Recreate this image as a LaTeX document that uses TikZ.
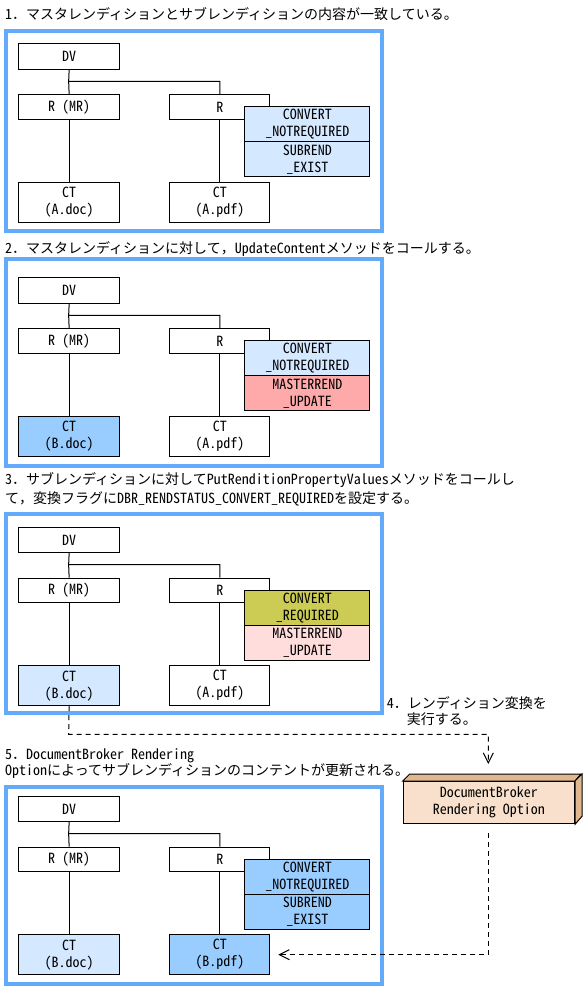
\documentclass[tikz,border=0pt]{standalone}
\usepackage{fontspec}
\setmainfont{Noto Sans CJK JP}[RawFeature=+hwid]
\newfontfamily\fwfont{Noto Sans CJK JP}
\usepackage{tikz}
\usetikzlibrary{arrows.meta}

\definecolor{framecol}{RGB}{100,170,250}
\definecolor{lightblue}{RGB}{212,232,255}
\definecolor{midblue}{RGB}{153,204,255}
\definecolor{salmon}{RGB}{255,170,170}
\definecolor{palepink}{RGB}{255,221,221}
\definecolor{olive}{RGB}{204,204,85}
\definecolor{dbrface}{RGB}{248,224,204}
\definecolor{dbrside}{RGB}{224,184,144}

\newcommand\fwdot{{\fwfont ．}}
\newcommand\fwcomma{{\fwfont ，}}

\begin{document}
\begin{tikzpicture}[x=1pt,y=-1pt,
    box/.style={draw,line width=1pt,inner sep=0pt,anchor=north west,align=center,
      minimum width=101.3pt,font=\fontsize{14}{17}\selectfont},
    dvbox/.style={minimum height=25.5pt},
    rbox/.style={minimum height=24.5pt},
    ctbox/.style={minimum height=40pt},
    stbox/.style={minimum width=125pt,minimum height=35pt},
    tree/.style={line width=1pt},
    frame/.style={draw=framecol,line width=4pt},
    flow/.style={line width=1pt,dash pattern=on 5pt off 4pt},
    title/.style={anchor=west,inner sep=0pt,font=\fontsize{14}{17}\selectfont},]

    \useasboundingbox (0,0) rectangle (584,989);

    \node[title] (t1) at (5,14) {1\fwdot マスタレンディションとサブレンディションの内容が一致している。};

    \begin{scope}[yshift=-43.3pt]

      \draw[frame] (6,-12.3) rectangle (382,187.7);

      \node[box,dvbox] (dv1) at (18,0) {DV};
      \node[box,rbox] (rmr1) at (18,51) {R (MR)};
      \node[box,rbox,minimum width=100pt] (r1) at (169.3,51) {R};
      \node[box,ctbox] (ctl1) at (18,138.5) {CT\\(A.doc)};
      \node[box,ctbox,minimum width=100pt] (ctr1) at (169.3,138.5) {CT\\(A.pdf)};

      \coordinate (j1) at (68.65,38);
      \draw[tree] (dv1.south) -- (j1) -| (r1.north);
      \draw[tree] (j1) -- (rmr1.north);
      \draw[tree] (rmr1.south) -- (ctl1.north);
      \draw[tree] (r1.south) -- (ctr1.north);

      \node[box,stbox,fill=lightblue] (sa1) at (244.3,63) {CONVERT\\\_NOTREQUIRED};
      \node[box,stbox,fill=lightblue] (sb1) at (244.3,98) {SUBREND\\\_EXIST};

    \end{scope}

    \node[title] (t2) at (5,249) {2\fwdot マスタレンディションに対して\fwcomma UpdateContentメソッドをコールする。};

    \begin{scope}[yshift=-277.3pt]

      \draw[frame] (6,-18.3) rectangle (382,188.7);

      \node[box,dvbox] (dv2) at (18,0) {DV};
      \node[box,rbox] (rmr2) at (18,51) {R (MR)};
      \node[box,rbox,minimum width=100pt] (r2) at (169.3,51) {R};
      \node[box,ctbox,fill=midblue] (ctl2) at (18,138.5) {CT\\(B.doc)};
      \node[box,ctbox,minimum width=100pt] (ctr2) at (169.3,138.5) {CT\\(A.pdf)};

      \coordinate (j2) at (68.65,38);
      \draw[tree] (dv2.south) -- (j2) -| (r2.north);
      \draw[tree] (j2) -- (rmr2.north);
      \draw[tree] (rmr2.south) -- (ctl2.north);
      \draw[tree] (r2.south) -- (ctr2.north);

      \node[box,stbox,fill=lightblue] (sa2) at (244.3,63) {CONVERT\\\_NOTREQUIRED};
      \node[box,stbox,fill=salmon] (sb2) at (244.3,98) {MASTERREND\\\_UPDATE};

    \end{scope}

    \node[title] (t3a) at (5,480) {3\fwdot サブレンディションに対してPutRenditionPropertyValuesメソッドをコールし};
    \node[title] (t3b) at (5,499) {て\fwcomma 変換フラグにDBR\_RENDSTATUS\_CONVERT\_REQUIREDを設定する。};

    \begin{scope}[yshift=-526.7pt]

      \draw[frame] (6,-12.7) rectangle (382,186.3);

      \node[box,dvbox] (dv3) at (18,0) {DV};
      \node[box,rbox] (rmr3) at (18,51) {R (MR)};
      \node[box,rbox,minimum width=100pt] (r3) at (169.3,51) {R};
      \node[box,ctbox,fill=lightblue] (ctl3) at (18,138.5) {CT\\(B.doc)};
      \node[box,ctbox,minimum width=100pt] (ctr3) at (169.3,138.5) {CT\\(A.pdf)};

      \coordinate (j3) at (68.65,38);
      \draw[tree] (dv3.south) -- (j3) -| (r3.north);
      \draw[tree] (j3) -- (rmr3.north);
      \draw[tree] (rmr3.south) -- (ctl3.north);
      \draw[tree] (r3.south) -- (ctr3.north);

      \node[box,stbox,fill=olive] (sa3) at (244.3,63) {CONVERT\\\_REQUIRED};
      \node[box,stbox,fill=palepink] (sb3) at (244.3,98) {MASTERREND\\\_UPDATE};

    \end{scope}

    \node[title] (t4a) at (386.7,703) {4\fwdot レンディション変換を};
    \node[title] (t4b) at (406.7,719.3) {実行する。};

    \node[title] (t5a) at (5,755.7) {5\fwdot DocumentBroker Rendering};
    \node[title] (t5b) at (5,771) {Optionによってサブレンディションのコンテントが更新される。};

    \begin{scope}[yshift=-795.7pt]

      \draw[frame] (6,-8.7) rectangle (382,188.3);

      \node[box,dvbox] (dv4) at (18,0) {DV};
      \node[box,rbox] (rmr4) at (18,51) {R (MR)};
      \node[box,rbox,minimum width=100pt] (r4) at (169.3,51) {R};
      \node[box,ctbox,fill=lightblue] (ctl4) at (18,138.5) {CT\\(B.doc)};
      \node[box,ctbox,minimum width=100pt,fill=midblue] (ctr4) at (169.3,138.5) {CT\\(B.pdf)};

      \coordinate (j4) at (68.65,38);
      \draw[tree] (dv4.south) -- (j4) -| (r4.north);
      \draw[tree] (j4) -- (rmr4.north);
      \draw[tree] (rmr4.south) -- (ctl4.north);
      \draw[tree] (r4.south) -- (ctr4.north);

      \node[box,stbox,fill=midblue] (sa4) at (244.3,63) {CONVERT\\\_NOTREQUIRED};
      \node[box,stbox,fill=midblue] (sb4) at (244.3,98) {SUBREND\\\_EXIST};

    \end{scope}

    % rendering option box
    \node[box,minimum width=171.3pt,minimum height=42.3pt,fill=dbrface] (dbr) at (402.7,781)
    {DocumentBroker\\Rendering Option};
    \draw[tree,fill=dbrside] (dbr.north west) -- ++(7,-7) -- ++(171.3,0) -- (dbr.north east) -- cycle;
    \draw[tree,fill=dbrside] (dbr.north east) -- ++(7,-7) -- ++(0,42.3) -- (dbr.south east) -- cycle;

    \coordinate (bend) at (68.65,734.3);
    \coordinate (tip) at (488.35,764);
    \draw[flow,-{Straight Barb[length=10pt,width=10pt]}] (ctl3.south) -- (bend) -| (tip);
    \draw[flow,-{Straight Barb[length=10pt,width=10pt]},shorten <=9pt,shorten >=8pt]
    (dbr.south) |- (ctr4.east);

  \end{tikzpicture}
\end{document}
